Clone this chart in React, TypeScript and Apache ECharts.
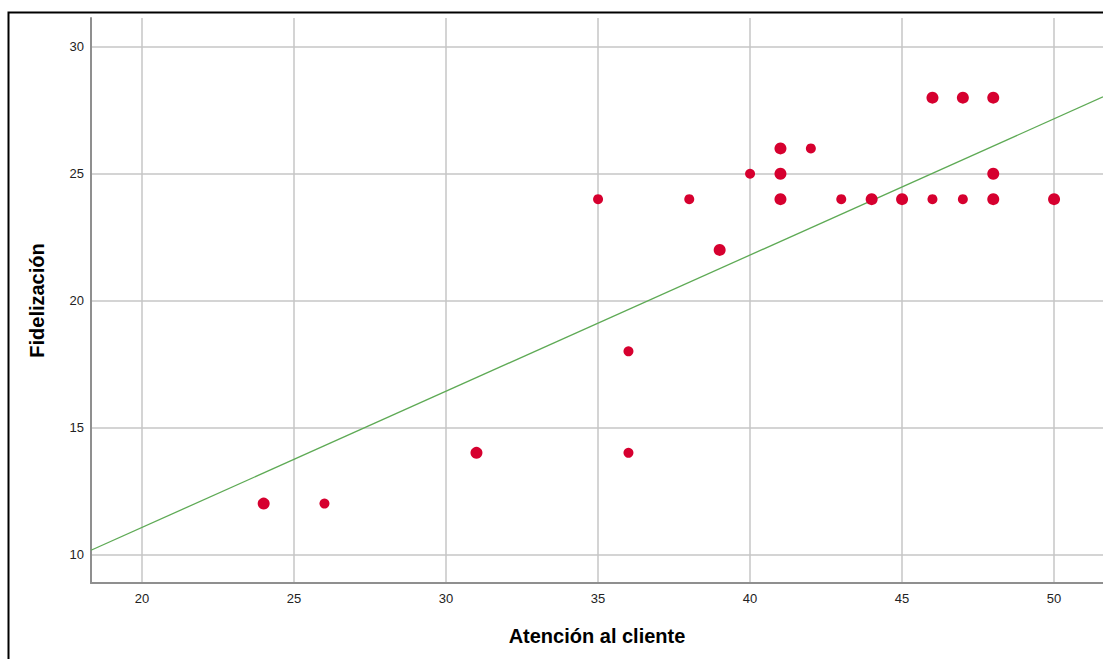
import React, { useEffect, useRef } from "react";
import * as echarts from "echarts";

// Atención al cliente (x) vs Fidelización (y); repeated pairs are overlapping cases
const atencion = [24, 24, 26, 31, 31, 35, 36, 36, 38, 39, 39, 40, 41, 41, 41, 41, 41, 41, 42, 43, 44, 44, 45, 45, 46, 46, 46, 47, 47, 47, 48, 48, 48, 48, 48, 48, 50, 50];
const fidelizacion = [12, 12, 12, 14, 14, 24, 18, 14, 24, 22, 22, 25, 26, 26, 25, 25, 24, 24, 26, 24, 24, 24, 24, 24, 28, 28, 24, 28, 28, 24, 28, 28, 25, 25, 24, 24, 24, 24];

// Linear fit line: endpoints at the axis edges
const fitX = [18.32, 51.61];
const fitY = [10.16, 28.03];

const xTicks = [20, 25, 30, 35, 40, 45, 50];
const yTicks = [10, 15, 20, 25, 30];

export default function App() {
  const ref = useRef<HTMLDivElement>(null);
  useEffect(() => {
    if (!ref.current) return;
    const chart = echarts.init(ref.current, undefined, { renderer: "svg" });

    const counts: Record<string, number> = {};
    atencion.forEach((x, i) => {
      const k = x + "_" + fidelizacion[i];
      counts[k] = (counts[k] || 0) + 1;
    });
    const seen: Record<string, boolean> = {};
    const points: [number, number][] = [];
    atencion.forEach((x, i) => {
      const k = x + "_" + fidelizacion[i];
      if (!seen[k]) {
        seen[k] = true;
        points.push([x, fidelizacion[i]]);
      }
    });

    const font = "Liberation Sans, Arial, sans-serif";

    chart.setOption({
      animation: false,
      backgroundColor: "#ffffff",
      grid: { left: 91, top: 18, right: 0, bottom: 76, containLabel: false },
      xAxis: {
        type: "value",
        min: 18.32,
        max: 51.61,
        name: "Atención al cliente",
        nameLocation: "middle",
        nameGap: 43,
        nameTextStyle: { fontFamily: font, fontSize: 20, fontWeight: "bold", color: "#000" },
        axisLine: { show: true, lineStyle: { color: "#8f8f8f", width: 2 } },
        axisTick: { show: false },
        axisLabel: {
          showMinLabel: false,
          showMaxLabel: false,
          margin: 9,
          fontFamily: font,
          fontSize: 13,
          color: "#222",
          formatter: (v: number) => (xTicks.includes(v) ? String(v) : ""),
        },
        splitLine: { show: true, showMinLine: false, showMaxLine: false, lineStyle: { color: "#c6c6c6", width: 1.5 } },
      },
      yAxis: {
        type: "value",
        min: 8.87,
        max: 31.14,
        name: "Fidelización",
        nameLocation: "middle",
        nameGap: 44,
        nameRotate: 90,
        nameTextStyle: { fontFamily: font, fontSize: 20, fontWeight: "bold", color: "#000" },
        axisLine: { show: true, lineStyle: { color: "#8f8f8f", width: 2 } },
        axisTick: { show: false },
        axisLabel: {
          showMinLabel: false,
          showMaxLabel: false,
          margin: 7,
          fontFamily: font,
          fontSize: 13,
          color: "#222",
          formatter: (v: number) => (yTicks.includes(v) ? String(v) : ""),
        },
        splitLine: { show: true, showMinLine: false, showMaxLine: false, lineStyle: { color: "#c6c6c6", width: 1.5 } },
      },
      series: [
        {
          type: "line",
          data: fitX.map((x, i) => [x, fitY[i]]),
          showSymbol: false,
          symbol: "none",
          lineStyle: { color: "#5eaa55", width: 1.3 },
          z: 2,
          silent: true,
        },
        {
          type: "scatter",
          data: points,
          symbol: "circle",
          symbolSize: (v: number[]) => (counts[v[0] + "_" + v[1]] > 1 ? 12 : 10),
          itemStyle: { color: "#d6002f", opacity: 1 },
          z: 3,
        },
      ],
      graphic: [
        {
          type: "rect",
          left: 6,
          top: 10,
          shape: { x: 0, y: 0, width: 1200, height: 800 },
          style: { fill: "none", stroke: "#000", lineWidth: 2 },
          z: 100,
          silent: true,
        },
      ],
    });
    return () => chart.dispose();
  }, []);
  return <div ref={ref} style={{ position: "absolute", left: 0, top: 0, width: 1103, height: 659 }} />;
}
